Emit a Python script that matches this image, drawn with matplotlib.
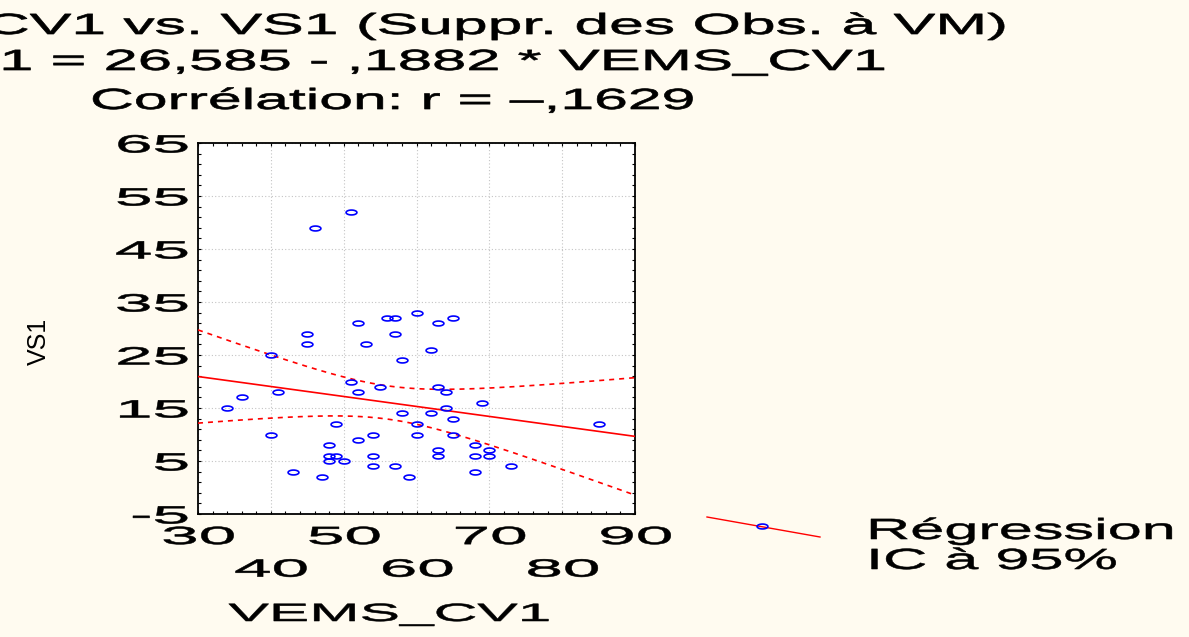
import numpy as np
import matplotlib
matplotlib.use('Agg')
import matplotlib.pyplot as plt
from matplotlib.path import Path
from matplotlib.lines import Line2D
from matplotlib.patheffects import AbstractPathEffect
from matplotlib.transforms import Affine2D

# data (VEMS_CV1 vs VS1)
vems_cv1 = [51, 46, 45, 45, 52, 56, 57, 60, 63, 65, 57, 53, 58, 62, 40, 51, 55, 63, 64, 52,
            41, 36, 34, 69, 58, 62, 64, 65, 85, 49, 60, 40, 54, 60, 65, 52, 48, 68, 48, 49,
            54, 63, 63, 68, 70, 70, 48, 50, 54, 57, 73, 43, 68, 47, 59]
vs1 = [52, 49, 29, 27, 31, 32, 32, 33, 31, 32, 29, 27, 24, 26, 25, 20, 19, 19, 18, 18,
       18, 17, 15, 16, 14, 14, 15, 13, 12, 12, 12, 10, 10, 10, 10, 9, 8, 8, 6, 6,
       6, 7, 6, 6, 7, 6, 5, 5, 4, 4, 4, 3, 3, 2, 2]

# regression printed on the chart
b0, b1 = 26.585, -0.1882
t_975 = 2.0057  # t(0.975, n-2)

xticks = [30, 40, 50, 60, 70, 80, 90]
yticks = [-5, 5, 15, 25, 35, 45, 55, 65]
ytick_labels = ['-5', '5', '15', '25', '35', '45', '55', '65']

title1 = "VEMS_CV1 vs. VS1 (Suppr. des Obs. \u00e0 VM)"
title2 = "VS1 = 26,585 - ,1882 * VEMS_CV1"
title3 = "Corr\u00e9lation: r = \u2013,1629"


class StretchX(AbstractPathEffect):
    """Draw text glyphs widened horizontally (the original export is stretched)."""
    def __init__(self, sx, anchor='left', stroke=0.4):
        super().__init__()
        self.sx = sx
        self.anchor = anchor
        self.stroke = stroke

    def draw_path(self, renderer, gc, tpath, affine, rgbFace=None):
        if len(tpath.vertices) == 0:
            return
        xs = affine.transform(tpath.vertices)[:, 0]
        if self.anchor == 'left':
            x0 = xs.min()
        elif self.anchor == 'right':
            x0 = xs.max()
        else:
            x0 = (xs.min() + xs.max()) / 2
        t = affine + Affine2D().translate(-x0, 0).scale(self.sx, 1).translate(x0, 0)
        gc0 = renderer.new_gc()
        gc0.copy_properties(gc)
        gc0.set_linewidth(self.stroke)
        renderer.draw_path(gc0, tpath, t, rgbFace)
        gc0.restore()


plt.rcParams['font.family'] = ['Liberation Sans', 'DejaVu Sans']

W, H = 1189, 637
bg = '#FFFBF0'
fig = plt.figure(figsize=(W / 100, H / 100), dpi=100, facecolor=bg)
ax = fig.add_axes([198 / W, 1 - 514 / H, 437 / W, 371 / H])
ax.set_facecolor('white')

# elliptical open marker
th = np.linspace(0, 2 * np.pi, 41)
ell = Path(np.c_[np.cos(th), 0.45 * np.sin(th)], closed=True)

x = np.array(vems_cv1, dtype=float)
y = np.array(vs1, dtype=float)
n = len(x)
resid = y - (b0 + b1 * x)
s = np.sqrt(np.sum(resid ** 2) / (n - 2))
xbar = x.mean()
sxx = np.sum((x - xbar) ** 2)

xs = np.linspace(30, 90, 200)
fit = b0 + b1 * xs
half = t_975 * s * np.sqrt(1 / n + (xs - xbar) ** 2 / sxx)

ax.plot(xs, fit, color='#FF0000', lw=1.2, zorder=3)
ax.plot(xs, fit + half, color='#FF0000', lw=1.2, ls=(0, (3, 3)), zorder=3)
ax.plot(xs, fit - half, color='#FF0000', lw=1.2, ls=(0, (3, 3)), zorder=3)
ax.plot(x, y, ls='none', marker=ell, ms=7.8, mfc='none', mec='#0000FF', mew=1.2, zorder=4)

ax.set_xlim(30, 90)
ax.set_ylim(-5, 65)
ax.set_xticks(xticks)
ax.set_xticklabels([str(v) if i % 2 == 0 else '\n' + str(v) for i, v in enumerate(xticks)])
ax.set_yticks(yticks)
ax.set_yticklabels(ytick_labels)
ax.set_xticks(np.arange(30, 91, 2), minor=True)
ax.set_yticks(np.arange(-5, 66, 2), minor=True)
ax.tick_params(which='both', direction='in', length=2.5, width=0.8,
               top=True, right=True, color='black')
ax.tick_params(axis='x', which='major', pad=8, labelsize=18)
ax.tick_params(axis='y', which='major', pad=7, labelsize=18)
ax.grid(True, which='major', color='#c4c4c4', ls=(0, (1, 2)), lw=0.8)
for sp in ax.spines.values():
    sp.set_linewidth(1.3)
    sp.set_color('black')

for lbl in ax.get_xticklabels():
    lbl.set_linespacing(1.45)
    lbl.set_path_effects([StretchX(2.7, 'center')])
for lbl in ax.get_yticklabels():
    lbl.set_path_effects([StretchX(2.7, 'right')])

ax.set_xlabel('VEMS_CV1', fontsize=18, path_effects=[StretchX(2.42, 'center')])
ax.xaxis.set_label_coords((389 - 198) / 437, (514 - 621) / 371)
ax.xaxis.label.set_va('baseline')
ax.set_ylabel('VS1', fontsize=18)
ax.yaxis.set_label_coords((51 - 198) / 437, (514 - 341) / 371)

# titles (left part runs off the figure in the original)
fig.text(1005 / W, 1 - 34 / H, title1, ha='right', va='baseline', fontsize=21,
         path_effects=[StretchX(2.14, 'right', 0.5)])
fig.text(885 / W, 1 - 70 / H, title2, ha='right', va='baseline', fontsize=21,
         path_effects=[StretchX(2.11, 'right', 0.5)])
fig.text(90 / W, 1 - 109 / H, title3, ha='left', va='baseline', fontsize=21,
         path_effects=[StretchX(2.08, 'left', 0.5)])

# legend sample (slanted line with marker) and labels
fig.add_artist(Line2D([707 / W, 820 / W], [1 - 517 / H, 1 - 537 / H],
                      color='#FF0000', lw=1.0, transform=fig.transFigure))
fig.add_artist(Line2D([762 / W], [1 - 526 / H], ls='none', marker=ell, ms=7.8,
                      mfc='none', mec='#0000FF', mew=1.2, transform=fig.transFigure))
fig.text(866 / W, 1 - 539 / H, 'R\u00e9gression', ha='left', va='baseline', fontsize=21,
         path_effects=[StretchX(2.1, 'left')])
fig.text(866 / W, 1 - 569 / H, 'IC \u00e0 95%', ha='left', va='baseline', fontsize=21,
         path_effects=[StretchX(2.1, 'left')])

fig.savefig('out.png', dpi=100, facecolor=bg)
